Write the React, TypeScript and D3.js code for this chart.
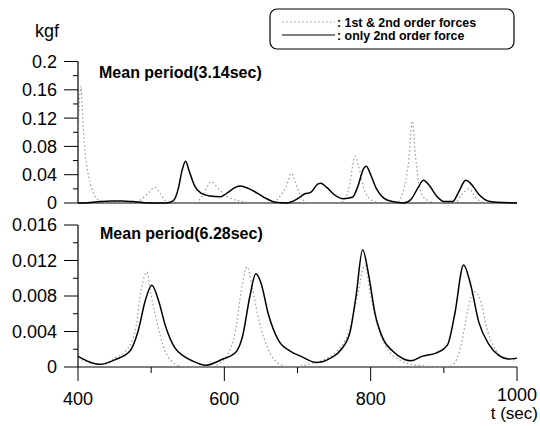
import React from 'react';
import * as d3 from 'd3';

// ---------- data ----------
const xTicks = [400, 600, 800, 1000];
const xTickLabels = ['400', '600', '800', '1000'];
const xMinorTicks = [500, 700, 900];

const topYTicks = [0, 0.04, 0.08, 0.12, 0.16, 0.2];
const topYTickLabels = ['0', '0.04', '0.08', '0.12', '0.16', '0.2'];
const topYMinor = [0.02, 0.06, 0.1, 0.14, 0.18];

const botYTicks = [0, 0.004, 0.008, 0.012, 0.016];
const botYTickLabels = ['0', '0.004', '0.008', '0.012', '0.016'];
const botYMinor = [0.002, 0.006, 0.01, 0.014];

const legendLabels = [': 1st & 2nd order forces', ': only 2nd order force'];
const topTitle = 'Mean period(3.14sec)';
const botTitle = 'Mean period(6.28sec)';
const yUnit = 'kgf';
const xUnit = 't (sec)';

// Mean period 3.14 s — only 2nd order force (solid)
const topSolid: [number, number][] = [
  [400, 0], [410, 0], [420, 0.001], [430, 0.002], [445, 0.003], [460, 0.003], [475, 0.002],
  [490, 0.0005], [500, 0], [520, 0], [530, 0.003], [537, 0.02], [542, 0.045], [547, 0.059],
  [552, 0.045], [559, 0.025], [568, 0.014], [580, 0.01], [595, 0.009], [605, 0.015],
  [615, 0.022], [622, 0.024], [632, 0.021], [645, 0.014], [658, 0.006], [670, 0.001],
  [685, 0], [700, 0.006], [710, 0.013], [718, 0.015], [728, 0.027], [732, 0.028],
  [740, 0.022], [750, 0.012], [762, 0.006], [775, 0.008], [783, 0.025], [790, 0.048],
  [794, 0.052], [800, 0.04], [808, 0.02], [818, 0.007], [830, 0.002], [845, 0],
  [855, 0.005], [865, 0.022], [872, 0.032], [880, 0.025], [890, 0.01], [900, 0.002],
  [912, 0.002], [920, 0.015], [930, 0.032], [938, 0.026], [948, 0.012], [960, 0.003],
  [972, 0.001], [1000, 0],
];

// Mean period 3.14 s — 1st & 2nd order forces (dotted)
const topDotted: [number, number][] = [
  [400, 0.09], [404, 0.165], [407, 0.11], [410, 0.07], [415, 0.035], [422, 0.012],
  [430, 0.003], [440, 0], [480, 0.002], [490, 0.008], [497, 0.015], [505, 0.022],
  [512, 0.014], [520, 0.003], [530, 0], [560, 0], [570, 0.01], [582, 0.03], [592, 0.02],
  [600, 0.012], [610, 0.006], [625, 0.002], [640, 0], [665, 0], [672, 0.005], [684, 0.022],
  [692, 0.042], [697, 0.03], [704, 0.01], [715, 0], [755, 0], [762, 0.002], [770, 0.02],
  [779, 0.066], [784, 0.05], [791, 0.02], [800, 0.005], [815, 0], [835, 0], [844, 0.015],
  [852, 0.06], [857, 0.116], [861, 0.07], [867, 0.02], [876, 0.005], [890, 0], [915, 0],
  [925, 0.012], [934, 0.02], [946, 0.005], [960, 0], [1000, 0],
];

// Mean period 6.28 s — only 2nd order force (solid)
const botSolid: [number, number][] = [
  [400, 0.0012], [415, 0.0006], [430, 0.0003], [450, 0.0008], [471, 0.0018], [482, 0.004],
  [492, 0.0075], [501, 0.0092], [510, 0.0075], [520, 0.0045], [532, 0.0022], [545, 0.0012],
  [556, 0.0007], [575, 0.0002], [598, 0.0009], [615, 0.0016], [625, 0.0035], [635, 0.008],
  [643, 0.0105], [650, 0.0095], [660, 0.006], [674, 0.003], [690, 0.0018], [705, 0.0012],
  [726, 0.0005], [745, 0.001], [760, 0.002], [772, 0.004], [780, 0.008], [789, 0.0132],
  [797, 0.0105], [806, 0.006], [818, 0.003], [830, 0.0018], [845, 0.0009], [855, 0.0007],
  [870, 0.0012], [890, 0.0016], [905, 0.0025], [915, 0.006], [927, 0.0115], [936, 0.0095],
  [948, 0.005], [962, 0.0025], [975, 0.0013], [988, 0.0009], [1000, 0.001],
];

// Mean period 6.28 s — 1st & 2nd order forces (dotted)
const botDotted: [number, number][] = [
  [400, 0.001], [420, 0.0004], [435, 0.0003], [450, 0.001], [465, 0.0018], [478, 0.004],
  [487, 0.009], [494, 0.0107], [500, 0.008], [508, 0.005], [518, 0.002], [530, 0.0005],
  [545, 0], [580, 0], [595, 0.0005], [605, 0.0015], [615, 0.004], [624, 0.009],
  [631, 0.0113], [638, 0.009], [648, 0.005], [660, 0.002], [672, 0.0005], [690, 0],
  [720, 0.0004], [750, 0.0015], [770, 0.004], [782, 0.008], [792, 0.0115], [800, 0.008],
  [812, 0.004], [825, 0.0018], [840, 0.0008], [855, 0.0003], [905, 0], [915, 0.0005],
  [925, 0.003], [933, 0.0065], [941, 0.0085], [950, 0.0075], [960, 0.004], [972, 0.0018],
  [985, 0.001], [1000, 0.0008],
];

// ---------- layout ----------
const W = 540;
const H = 426;
const FONT = "'Liberation Sans', Arial, Helvetica, sans-serif";

const x = d3.scaleLinear().domain([400, 1000]).range([78, 517]);
const yTop = d3.scaleLinear().domain([0, 0.2]).range([203, 61.5]);
const yBot = d3.scaleLinear().domain([0, 0.016]).range([367, 225]);

function makeLine(y: d3.ScaleLinear<number, number>) {
  return d3
    .line<[number, number]>()
    .x((d) => x(d[0]))
    .y((d) => y(d[1]))
    .curve(d3.curveMonotoneX);
}

const SOLID = { stroke: '#000', strokeWidth: 1.5, fill: 'none' };
const DOTTED = { stroke: '#999', strokeWidth: 1.2, fill: 'none', strokeDasharray: '1.5,2.5' };

function YAxis({ y, ticks, labels, minor }: { y: d3.ScaleLinear<number, number>; ticks: number[]; labels: string[]; minor: number[] }) {
  const x0 = x(400);
  const [d0, d1] = y.domain();
  return (
    <g>
      <line x1={x0} x2={x0} y1={y(d0)} y2={y(d1)} stroke="#000" strokeWidth={1.2} />
      {ticks.map((t, i) => (
        <g key={'t' + i}>
          <line x1={x0 - 14} x2={x0} y1={y(t)} y2={y(t)} stroke="#000" strokeWidth={1} />
          <text x={57} y={y(t)} dy="0.36em" textAnchor="end" fontSize={18} fontFamily={FONT}>
            {labels[i]}
          </text>
        </g>
      ))}
      {minor.map((t, i) => (
        <line key={'m' + i} x1={x0 - 5} x2={x0} y1={y(t)} y2={y(t)} stroke="#000" strokeWidth={1} />
      ))}
    </g>
  );
}

export default function App() {
  const lineTop = makeLine(yTop);
  const lineBot = makeLine(yBot);
  const yb0 = yBot(0);
  return (
    <svg
      width={W}
      height={H}
      viewBox={`0 0 ${W} ${H}`}
      style={{ position: 'absolute', left: 0, top: 0, background: '#fff' }}
    >
      <rect x={0} y={0} width={W} height={H} fill="#fff" />

      {/* unit label */}
      <text x={35} y={37} fontSize={18} fontFamily={FONT}>{yUnit}</text>

      {/* legend */}
      <rect x={270} y={9} width={244} height={40} rx={7} ry={7} fill="#fff" stroke="#000" strokeWidth={1.2} />
      <line x1={282} x2={335} y1={22} y2={22} {...DOTTED} />
      <line x1={282} x2={335} y1={35} y2={35} {...SOLID} strokeWidth={1.2} />
      <text x={337} y={26.5} fontSize={12.4} fontWeight="bold" fontFamily={FONT}>{legendLabels[0]}</text>
      <text x={337} y={40} fontSize={12.4} fontWeight="bold" fontFamily={FONT}>{legendLabels[1]}</text>

      {/* top panel */}
      <YAxis y={yTop} ticks={topYTicks} labels={topYTickLabels} minor={topYMinor} />
      <line x1={x(400)} x2={x(1000)} y1={yTop(0)} y2={yTop(0)} stroke="#000" strokeWidth={1.2} />
      <text x={99} y={78} fontSize={16} fontWeight="bold" fontFamily={FONT}>{topTitle}</text>
      <path d={lineTop(topDotted) || ''} {...DOTTED} />
      <path d={lineTop(topSolid) || ''} {...SOLID} />

      {/* bottom panel */}
      <YAxis y={yBot} ticks={botYTicks} labels={botYTickLabels} minor={botYMinor} />
      <line x1={x(400)} x2={x(1000)} y1={yb0} y2={yb0} stroke="#000" strokeWidth={1.2} />
      {xTicks.map((t, i) => (
        <g key={'xt' + i}>
          <line x1={x(t)} x2={x(t)} y1={yb0} y2={yb0 + 14} stroke="#000" strokeWidth={1} />
          <text
            x={x(t)}
            y={i === xTicks.length - 1 ? 401 : 405}
            textAnchor="middle"
            fontSize={18}
            fontFamily={FONT}
          >
            {xTickLabels[i]}
          </text>
        </g>
      ))}
      {xMinorTicks.map((t, i) => (
        <line key={'xm' + i} x1={x(t)} x2={x(t)} y1={yb0} y2={yb0 + 6} stroke="#000" strokeWidth={1} />
      ))}
      <text x={100} y={239} fontSize={16} fontWeight="bold" fontFamily={FONT}>{botTitle}</text>
      <path d={lineBot(botDotted) || ''} {...DOTTED} />
      <path d={lineBot(botSolid) || ''} {...SOLID} />

      <text x={538} y={419} textAnchor="end" fontSize={17} fontFamily={FONT}>{xUnit}</text>
    </svg>
  );
}
